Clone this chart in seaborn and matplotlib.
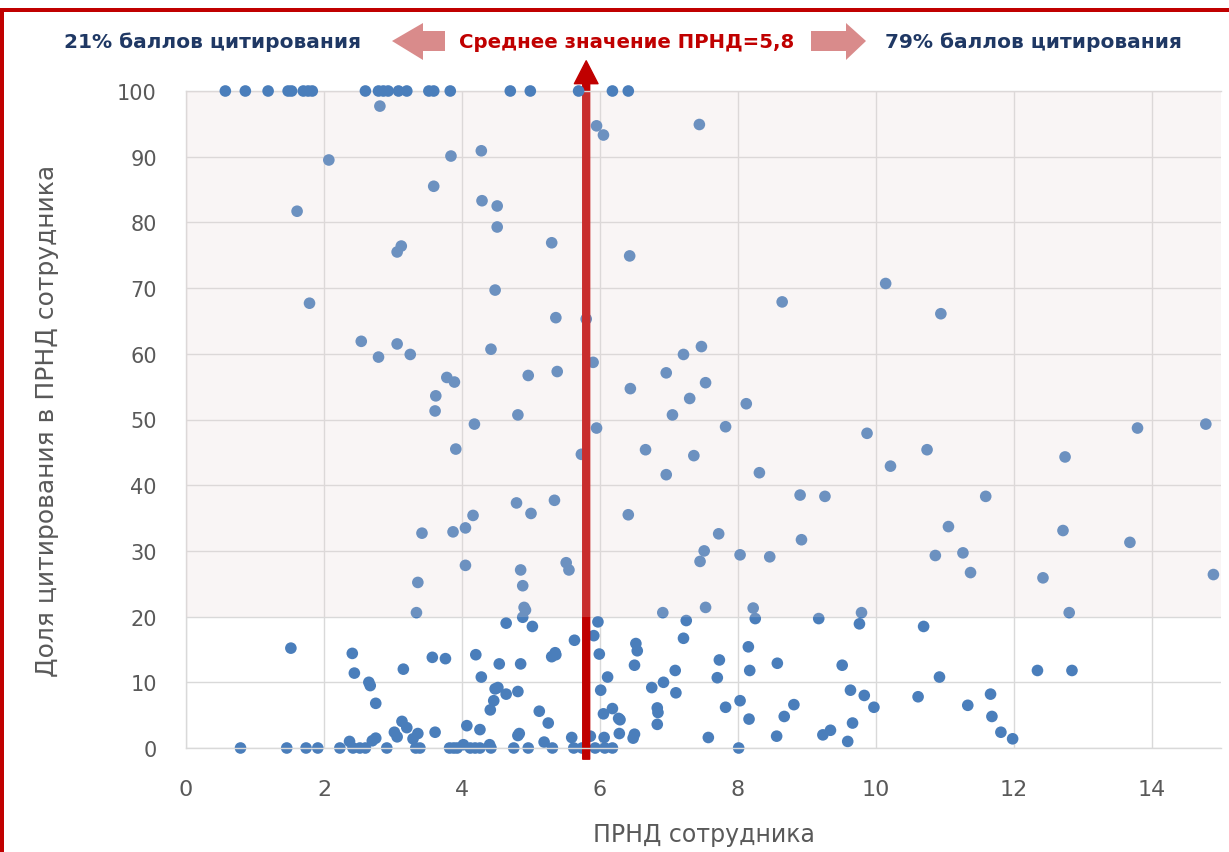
import numpy as np
import pandas as pd
import matplotlib
matplotlib.use("Agg")
import matplotlib.pyplot as plt
import seaborn as sns
from matplotlib.patches import Rectangle, Polygon, FancyArrowPatch

# ---------------- data ----------------
# employees with 100% share (y = 100)
top_x = [0.57, 0.86, 1.19, 1.48, 1.53, 1.70, 1.77, 1.83, 2.60, 2.79, 2.86, 2.93,
         3.08, 3.20, 3.52, 3.59, 3.83, 4.70, 4.99, 5.69, 6.18, 6.41]

upper_x = [2.81, 5.95, 6.05, 7.44, 2.07, 3.84, 4.28, 3.59, 4.29, 4.51, 1.61, 4.51,
           5.30, 6.43, 3.12, 3.06, 4.48, 1.79, 5.36, 5.80, 8.64, 10.14, 10.94, 2.54,
           3.06, 2.79, 3.25, 4.42, 5.90, 7.47, 7.21, 4.96, 5.38, 6.96, 6.44, 3.78,
           3.89, 7.53, 3.62, 3.61, 7.30, 8.12, 4.81, 7.05, 5.95, 4.18, 7.82, 9.87,
           13.79, 14.78, 3.91, 5.73, 6.66, 7.36, 10.74, 12.74, 6.96, 8.31, 10.21, 4.79,
           5.34, 8.90, 9.26, 11.59, 5.00, 6.41, 4.16, 4.05, 3.87, 3.42, 7.72, 8.92,
           11.05, 12.71, 13.68, 7.51, 7.45, 8.03, 8.46, 10.86, 11.26, 4.05, 4.85, 4.88,
           5.51, 5.55, 11.37, 12.42, 14.89, 3.36, 3.34, 4.90, 4.92, 6.91, 7.53, 8.22,
           9.79, 12.80]
upper_y = [97.7, 94.7, 93.3, 94.9, 89.5, 90.1, 90.9, 85.5, 83.3, 82.5, 81.7, 79.3,
           76.9, 74.9, 76.4, 75.5, 69.7, 67.7, 65.5, 65.3, 67.9, 70.7, 66.1, 61.9,
           61.5, 59.5, 59.9, 60.7, 58.7, 61.1, 59.9, 56.7, 57.3, 57.1, 54.7, 56.4,
           55.7, 55.6, 53.6, 51.3, 53.2, 52.4, 50.7, 50.7, 48.7, 49.3, 48.9, 47.9,
           48.7, 49.3, 45.5, 44.7, 45.4, 44.5, 45.4, 44.3, 41.6, 41.9, 42.9, 37.3,
           37.7, 38.5, 38.3, 38.3, 35.7, 35.5, 35.4, 33.5, 32.9, 32.7, 32.6, 31.7,
           33.7, 33.1, 31.3, 30.0, 28.4, 29.4, 29.1, 29.3, 29.7, 27.8, 27.1, 24.7,
           28.2, 27.1, 26.7, 25.9, 26.4, 25.2, 20.6, 21.4, 21.0, 20.6, 21.4, 21.3,
           20.6, 20.6]

lower_x = [4.88, 4.64, 5.02, 5.97, 5.91, 5.63, 6.52, 6.54, 7.25, 7.21, 8.25, 9.17,
           9.76, 10.69, 5.99, 6.50, 7.09, 7.73, 7.70, 8.15, 8.17, 8.57, 9.51, 10.92,
           12.34, 12.84, 6.11, 6.75, 6.92, 7.10, 6.01, 6.83, 6.84, 6.83, 6.18, 6.05,
           6.27, 6.29, 6.28, 6.48, 6.50, 6.06, 5.86, 5.59, 5.25, 5.12, 5.19, 7.57,
           7.82, 8.03, 8.16, 8.81, 8.67, 8.56, 9.63, 9.83, 9.97, 10.61, 11.66, 11.33,
           11.68, 11.81, 11.98, 9.66, 9.23, 9.34, 9.59, 4.81, 4.85, 4.54, 4.20, 4.28,
           4.48, 4.52, 4.64, 4.46, 4.41, 5.30, 5.35, 5.36, 4.07, 4.26, 4.02, 4.40,
           4.81, 4.83, 3.57, 3.76, 3.61, 3.15, 1.52, 2.41, 2.44, 2.65, 2.67, 2.75,
           3.13, 3.20, 3.02, 3.06, 3.36, 3.29, 2.70, 2.75, 2.37]
lower_y = [19.9, 19.0, 18.5, 19.2, 17.1, 16.4, 15.9, 14.8, 19.4, 16.7, 19.7, 19.7,
           18.9, 18.5, 14.3, 12.6, 11.8, 13.4, 10.7, 15.4, 11.8, 12.9, 12.6, 10.8,
           11.8, 11.8, 10.8, 9.2, 10.0, 8.4, 8.8, 6.1, 5.4, 3.6, 6.0, 5.2,
           4.5, 4.3, 2.2, 1.5, 2.1, 1.6, 1.8, 1.6, 3.8, 5.6, 0.9, 1.6,
           6.2, 7.2, 4.4, 6.6, 4.8, 1.8, 8.8, 8.0, 6.2, 7.8, 8.2, 6.5,
           4.8, 2.4, 1.4, 3.8, 2.0, 2.7, 1.0, 8.6, 12.8, 12.8, 14.2, 10.8,
           9.0, 9.2, 8.2, 7.2, 5.8, 13.9, 14.5, 14.2, 3.4, 2.8, 0.5, 0.5,
           1.9, 2.2, 13.8, 13.6, 2.4, 12.0, 15.2, 14.4, 11.4, 10.0, 9.5, 6.8,
           4.05, 3.1, 2.4, 1.7, 2.2, 1.4, 1.1, 1.5, 1.0]

# employees with 0% share (y = 0)
zero_x = [0.79, 1.46, 1.74, 1.91, 2.23, 2.42, 2.52, 2.60, 2.91, 3.33, 3.39, 3.82,
          3.88, 3.93, 4.12, 4.19, 4.26, 4.42, 4.75, 4.96, 5.31, 5.62, 5.74, 5.93,
          6.07, 6.18, 8.01]

mean_prnd = 5.8
left_text = "21% баллов цитирования"
right_text = "79% баллов цитирования"
mean_text = "Среднее значение ПРНД=5,8"
x_title = "ПРНД сотрудника"
y_title = "Доля цитирования в ПРНД сотрудника"
x_ticks = list(range(0, 15, 2))
y_ticks = list(range(0, 101, 10))

df = pd.DataFrame({
    "x": upper_x + lower_x + zero_x + top_x,
    "y": upper_y + lower_y + [0.0] * len(zero_x) + [100.0] * len(top_x),
})

# ---------------- figure ----------------
W, H = 1229, 853
sns.set_theme(style="white")
plt.rcParams["font.family"] = ["DejaVu Sans"]
fig = plt.figure(figsize=(W / 100, H / 100), dpi=100)
fig.patch.set_facecolor("white")

def fx(px):
    return px / W

def fy(py):
    return 1 - py / H

ax = fig.add_axes([fx(186), fy(749), fx(1221) - fx(186), fy(92) - fy(749)])
ax.set_facecolor("white")

point_color = "#4A7EBB"
sns.scatterplot(data=df[df["y"] < 100], x="x", y="y", ax=ax, color=point_color,
                s=70, edgecolor="none", linewidth=0, zorder=2, clip_on=False,
                legend=False)
sns.scatterplot(data=df[df["y"] >= 100], x="x", y="y", ax=ax, color=point_color,
                s=70, edgecolor="none", linewidth=0, zorder=4, clip_on=False,
                legend=False)

ax.set_xlim(0, 15)
ax.set_ylim(0, 100)
ax.set_xticks(x_ticks)
ax.set_yticks(y_ticks)
ax.grid(True, color="#D9D9D9", linewidth=1.0)
ax.set_axisbelow(True)
for side in ["left", "bottom", "top"]:
    ax.spines[side].set_visible(True)
    ax.spines[side].set_color("#D9D9D9")
    ax.spines[side].set_linewidth(1.0)
ax.spines["right"].set_visible(False)
ax.tick_params(axis="both", length=0)
ax.tick_params(axis="y", pad=21, labelsize=15, labelcolor="#595959")
ax.tick_params(axis="x", pad=22, labelsize=16, labelcolor="#595959")

ax.set_xlabel(x_title, fontsize=17, color="#595959", va="center")
ax.xaxis.set_label_coords(0.5, (749 - 835) / 657)
ax.set_ylabel(y_title, fontsize=18, color="#595959", va="center")
ax.yaxis.set_label_coords((47 - 186) / 1035, 0.5)

# mean arrow
arrow = FancyArrowPatch((mean_prnd, -1.7), (mean_prnd, 104.6),
                        arrowstyle="simple,tail_width=0.5,head_width=1.7,head_length=1.65",
                        mutation_scale=10, color="#C00000", shrinkA=0, shrinkB=0,
                        zorder=2.5, clip_on=False)
ax.add_patch(arrow)

# pink translucent overlay for the 20..100 band
ax.add_patch(Rectangle((0, 20), 15, 80, facecolor=(0.91, 0.835, 0.835),
                       alpha=0.22, edgecolor="none", zorder=3))

# header texts
hdr_font = dict(fontweight="bold", va="center", ha="center",
                transform=fig.transFigure)
fig.text(fx(213), fy(42), left_text, color="#1F3864", fontsize=14.5, **hdr_font)
fig.text(fx(627), fy(43), mean_text, color="#C00000", fontsize=14.2, **hdr_font)
fig.text(fx(1033), fy(42), right_text, color="#1F3864", fontsize=14.5, **hdr_font)

arrow_color = "#D98B8B"
left_arrow = [(392, 42), (423, 24), (423, 32), (445, 32), (445, 52), (423, 52), (423, 61)]
right_arrow = [(866, 42), (846, 24), (846, 32), (811, 32), (811, 52), (846, 52), (846, 61)]
for pts in (left_arrow, right_arrow):
    fig.patches.append(Polygon([(fx(a), fy(b)) for a, b in pts], closed=True,
                               facecolor=arrow_color, edgecolor="none",
                               transform=fig.transFigure, figure=fig))

# red frame (left and top)
fig.patches.append(Rectangle((0, fy(13)), 1, fy(9) - fy(13), facecolor="#C00000",
                             edgecolor="none", transform=fig.transFigure, figure=fig))
fig.patches.append(Rectangle((0, 0), fx(4), fy(9), facecolor="#C00000",
                             edgecolor="none", transform=fig.transFigure, figure=fig))

fig.savefig("out.png", dpi=100)
